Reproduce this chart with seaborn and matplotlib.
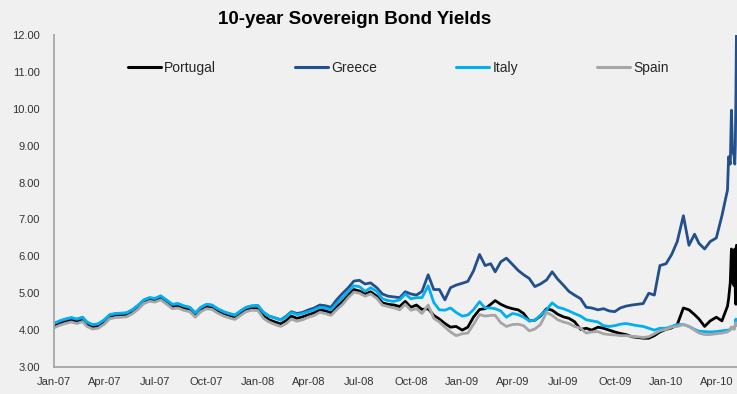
import pandas as pd
import matplotlib
matplotlib.use("Agg")
import matplotlib.pyplot as plt
import matplotlib.dates as mdates
from matplotlib.ticker import FormatStrFormatter, MultipleLocator
from matplotlib.lines import Line2D
import seaborn as sns

# ---- data: 10-year government bond yields (%) ----
countries = ["Portugal", "Greece", "Italy", "Spain"]
colors = ["#000000", "#22508C", "#00B0F0", "#A6A6A6"]

# observations on the 1st, 11th and 21st of each month, Jan-2007 .. Apr-2010
sample_dates = [pd.Timestamp(y, m, d)
                for y in range(2007, 2011) for m in range(1, 13) for d in (1, 11, 21)
                if pd.Timestamp(y, m, d) <= pd.Timestamp(2010, 4, 21)]
# denser observations through the late-April / early-May 2010 sell-off
late_dates = pd.to_datetime(["2010-04-23", "2010-04-26", "2010-04-28", "2010-04-30",
                             "2010-05-03", "2010-05-04", "2010-05-05", "2010-05-06",
                             "2010-05-07"])
dates = list(sample_dates) + list(late_dates)

portugal = [
    4.12, 4.18, 4.22, 4.27, 4.23, 4.28, 4.15, 4.08, 4.10, 4.21, 4.36, 4.39,
    4.40, 4.41, 4.49, 4.62, 4.76, 4.82, 4.80, 4.87, 4.76, 4.63, 4.65, 4.59,
    4.55, 4.40, 4.55, 4.62, 4.60, 4.50, 4.42, 4.37, 4.33, 4.44, 4.54, 4.58,
    4.58, 4.38, 4.28, 4.22, 4.17, 4.26, 4.38, 4.32, 4.36, 4.42, 4.47, 4.55,
    4.52, 4.47, 4.63, 4.78, 4.95, 5.10, 5.06, 4.98, 5.04, 4.92, 4.74, 4.70,
    4.68, 4.64, 4.78, 4.62, 4.68, 4.56, 4.58, 4.40, 4.30, 4.18, 4.08, 4.10,
    4.00, 4.08, 4.35, 4.56, 4.58, 4.70, 4.80, 4.70, 4.63, 4.58, 4.55, 4.45,
    4.25, 4.27, 4.38, 4.58, 4.54, 4.43, 4.36, 4.32, 4.23, 4.02, 4.05, 4.00,
    4.08, 4.05, 4.00, 3.95, 3.91, 3.88, 3.82, 3.80, 3.78, 3.78, 3.85, 3.95,
    4.02, 4.06, 4.15, 4.60, 4.55, 4.42, 4.30, 4.10, 4.25, 4.35, 4.25, 4.65,
    4.85, 5.30, 6.20, 5.30, 5.20, 6.20, 5.00, 4.70, 6.30,
]
greece = [
    4.17, 4.24, 4.29, 4.33, 4.29, 4.34, 4.21, 4.14, 4.16, 4.27, 4.41, 4.44,
    4.45, 4.46, 4.54, 4.67, 4.81, 4.87, 4.85, 4.92, 4.81, 4.69, 4.71, 4.65,
    4.61, 4.46, 4.61, 4.69, 4.67, 4.57, 4.49, 4.44, 4.40, 4.51, 4.61, 4.65,
    4.66, 4.48, 4.38, 4.33, 4.28, 4.38, 4.50, 4.45, 4.48, 4.55, 4.60, 4.68,
    4.66, 4.62, 4.82, 5.00, 5.15, 5.33, 5.35, 5.25, 5.28, 5.15, 4.98, 4.92,
    4.90, 4.88, 5.04, 4.98, 4.95, 5.05, 5.50, 5.10, 5.10, 4.82, 5.15, 5.22,
    5.27, 5.32, 5.60, 6.05, 5.75, 5.80, 5.58, 5.85, 5.95, 5.78, 5.62, 5.50,
    5.40, 5.18, 5.25, 5.36, 5.58, 5.38, 5.22, 5.05, 4.95, 4.85, 4.62, 4.60,
    4.55, 4.58, 4.52, 4.50, 4.60, 4.65, 4.68, 4.70, 4.72, 5.00, 4.95, 5.75,
    5.80, 6.05, 6.40, 7.10, 6.30, 6.60, 6.35, 6.20, 6.40, 6.50, 7.10, 7.80,
    8.70, 8.50, 9.96, 8.90, 8.70, 8.50, 9.00, 10.30, 12.00,
]
italy = [
    4.18, 4.25, 4.30, 4.34, 4.30, 4.35, 4.22, 4.15, 4.17, 4.28, 4.42, 4.45,
    4.46, 4.47, 4.55, 4.68, 4.82, 4.88, 4.86, 4.93, 4.82, 4.70, 4.72, 4.66,
    4.62, 4.47, 4.62, 4.70, 4.68, 4.58, 4.50, 4.45, 4.41, 4.52, 4.62, 4.66,
    4.67, 4.48, 4.38, 4.33, 4.27, 4.36, 4.48, 4.42, 4.45, 4.50, 4.55, 4.62,
    4.60, 4.55, 4.72, 4.88, 5.05, 5.20, 5.18, 5.05, 5.15, 5.05, 4.85, 4.80,
    4.78, 4.82, 4.98, 4.85, 4.88, 4.88, 5.20, 4.75, 4.55, 4.54, 4.60, 4.48,
    4.38, 4.41, 4.55, 4.77, 4.60, 4.60, 4.58, 4.52, 4.35, 4.45, 4.42, 4.35,
    4.25, 4.27, 4.40, 4.55, 4.74, 4.62, 4.58, 4.52, 4.45, 4.38, 4.28, 4.25,
    4.22, 4.12, 4.10, 4.12, 4.16, 4.18, 4.15, 4.12, 4.10, 4.05, 4.00, 4.05,
    4.05, 4.10, 4.15, 4.15, 4.10, 4.02, 3.97, 3.96, 3.95, 3.96, 3.98, 4.00,
    4.00, 4.02, 4.08, 4.05, 4.04, 4.10, 4.15, 4.30, 4.18,
]
spain = [
    4.06, 4.13, 4.18, 4.22, 4.18, 4.23, 4.10, 4.03, 4.05, 4.16, 4.31, 4.34,
    4.35, 4.36, 4.44, 4.57, 4.72, 4.78, 4.76, 4.82, 4.71, 4.58, 4.60, 4.54,
    4.50, 4.35, 4.50, 4.58, 4.56, 4.46, 4.38, 4.33, 4.29, 4.40, 4.50, 4.54,
    4.53, 4.32, 4.22, 4.15, 4.10, 4.18, 4.30, 4.24, 4.28, 4.35, 4.40, 4.48,
    4.45, 4.40, 4.55, 4.70, 4.88, 5.03, 5.00, 4.92, 4.98, 4.86, 4.68, 4.64,
    4.60, 4.55, 4.70, 4.54, 4.58, 4.45, 4.68, 4.32, 4.22, 4.08, 3.95, 3.85,
    3.90, 3.92, 4.15, 4.42, 4.38, 4.40, 4.40, 4.20, 4.10, 4.15, 4.16, 4.12,
    3.98, 4.03, 4.15, 4.48, 4.40, 4.28, 4.22, 4.18, 4.10, 4.05, 3.92, 3.95,
    3.96, 3.90, 3.88, 3.87, 3.85, 3.85, 3.83, 3.82, 3.80, 3.82, 3.90, 3.98,
    4.02, 4.08, 4.10, 4.15, 4.10, 4.00, 3.92, 3.88, 3.88, 3.90, 3.92, 3.95,
    3.98, 4.00, 4.08, 4.05, 4.02, 4.10, 4.12, 4.20, 4.12,
]

series = {"Portugal": portugal, "Greece": greece, "Italy": italy, "Spain": spain}
df = pd.concat(
    [pd.DataFrame({"Date": dates, "Yield": vals, "Country": name})
     for name, vals in series.items()],
    ignore_index=True,
)

# ---- styling ----
BG = "#F0F0F0"
AXIS = "#A6A6A6"
TEXT = "#333333"
sns.set_style("white", rc={"axes.facecolor": BG, "figure.facecolor": BG})
plt.rcParams["font.family"] = ["Liberation Sans", "DejaVu Sans"]

W, H = 737, 394
fig = plt.figure(figsize=(W / 100, H / 100), dpi=100, facecolor=BG)
ax = fig.add_axes([54 / W, 1 - 367 / H, (W - 54) / W, (367 - 35) / H])

sns.lineplot(data=df, x="Date", y="Yield", hue="Country", hue_order=countries,
             palette=colors, linewidth=2.0, estimator=None, sort=False,
             legend=False, ax=ax)

ax.set_xlim(pd.Timestamp("2007-01-01"), pd.Timestamp("2010-05-08"))
ax.set_ylim(3, 12)
ax.yaxis.set_major_locator(MultipleLocator(1))
ax.yaxis.set_major_formatter(FormatStrFormatter("%.2f"))
ax.xaxis.set_major_locator(mdates.MonthLocator(bymonth=[1, 4, 7, 10]))
ax.xaxis.set_major_formatter(mdates.DateFormatter("%b-%y"))
ax.set_xlabel("")
ax.set_ylabel("")

for side in ("top", "right"):
    ax.spines[side].set_visible(False)
for side in ("left", "bottom"):
    ax.spines[side].set_color(AXIS)
    ax.spines[side].set_linewidth(1.3)

ax.tick_params(axis="both", length=0, labelsize=8, labelcolor=TEXT)
ax.tick_params(axis="y", pad=10)
ax.tick_params(axis="x", pad=7)

handles = [Line2D([], [], color=c, linewidth=2.2) for c in colors]
fig.legend(handles, countries, loc="center left",
           bbox_to_anchor=(128 / W, 1 - 68 / H), ncol=4, frameon=False,
           fontsize=10, handlelength=2.35, handletextpad=0.25,
           columnspacing=5.7, borderpad=0, borderaxespad=0)

fig.text(355 / W, 1 - 20 / H, "10-year Sovereign Bond Yields", ha="center",
         va="center", fontsize=13.5, fontweight="bold", color="#000000")

fig.savefig("out.png", dpi=100, facecolor=BG)
